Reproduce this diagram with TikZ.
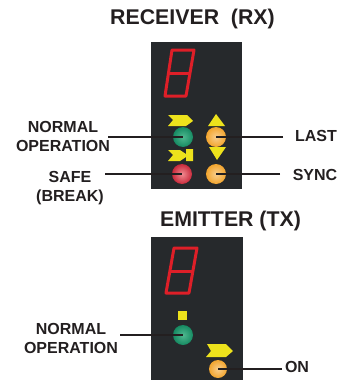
\documentclass[tikz,border=0pt]{standalone}
\usepackage{fontspec}
\setmainfont{Liberation Sans}
\usepackage{tikz}
\definecolor{panelgray}{HTML}{26292C}
\definecolor{labelgray}{HTML}{231F20}
\definecolor{segred}{HTML}{DE1F28}
\definecolor{iconyellow}{HTML}{EDE21C}
\definecolor{ledgreen}{HTML}{168A62}
\definecolor{ledgreenlit}{HTML}{4FB88F}
\definecolor{ledred}{HTML}{C92A3C}
\definecolor{ledredlit}{HTML}{F08A90}
\definecolor{ledorange}{HTML}{F2A52E}
\definecolor{ledorangelit}{HTML}{F9CE8E}

\begin{document}
\begin{tikzpicture}[x=1pt,y=-1pt]
      \tikzstyle{title} = [font=\fontsize{21.3}{24}\selectfont\bfseries, text=labelgray, inner sep=0pt]
      \tikzstyle{label} = [font=\fontsize{16}{19}\selectfont\bfseries, text=labelgray, align=center, inner sep=0pt]
      \tikzstyle{panel} = [fill=panelgray, draw=none]
      \tikzstyle{segment} = [draw=segred, line width=3pt, line join=round]
      \tikzstyle{icon} = [fill=iconyellow, draw=none]
      \tikzstyle{led} = [circle, minimum size=20pt, inner sep=0pt]
      \tikzstyle{greenled} = [led, inner color=ledgreenlit, outer color=ledgreen]
      \tikzstyle{redled} = [led, inner color=ledredlit, outer color=ledred]
      \tikzstyle{orangeled} = [led, inner color=ledorangelit, outer color=ledorange]
      \tikzstyle{leader} = [draw=labelgray, line width=1.8pt]
      \useasboundingbox (0,0) rectangle (347,380);
      % receiver panel
      \fill [panel] (151,42) rectangle (242,189);
      \draw [segment] (172,50)--(194,50)--(186,96)--(165,96)--cycle;
      \draw [segment] (169,73)--(190,73);
      \fill [icon] (168,115)--(187,115)--(193,121)--(186,126)--(168,126)--(173,120)--cycle;
      \fill [icon] (168,150)--(180,150)--(186,154)--(186,149)--(193,149)--(193,161)--(186,161)--(186,157)--(180,161)--(168,161)--(173,155)--cycle;
      \fill [icon] (216,114)--(225,126)--(208,126)--cycle;
      \fill [icon] (209,147)--(226,147)--(217,160)--cycle;
      \node (rxnormal) [greenled] at (183,137) {};
      \node (rxsafe) [redled] at (182,174) {};
      \node (rxlast) [orangeled] at (216,137) {};
      \node (rxsync) [orangeled] at (216,174) {};
      % emitter panel
      \fill [panel] (151,237) rectangle (243,380);
      \draw [segment] (174,248)--(197,248)--(189,293)--(166,293)--cycle;
      \draw [segment] (170,271)--(193,271);
      \fill [icon] (178,311) rectangle (187,320);
      \fill [icon] (207,344)--(226,344)--(233,351)--(226,357)--(206,357)--(211,351)--cycle;
      \node (txnormal) [greenled] at (183,335) {};
      \node (txon) [orangeled, minimum size=18pt] at (218,369) {};
      % texts
      \node (rxtitle) [title] at (192.5,19) {RECEIVER~~(RX)};
      \node (txtitle) [title] at (230.5,221) {EMITTER (TX)};
      \node (rxnormallabel) [label] at (63,136.5) {NORMAL\\OPERATION};
      \node (rxsafelabel) [label] at (70,188.5) {SAFE\\(BREAK)};
      \node (rxlastlabel) [label] at (316,136) {LAST};
      \node (rxsynclabel) [label] at (315,175) {SYNC};
      \node (txnormallabel) [label] at (71,338.5) {NORMAL\\OPERATION};
      \node (txonlabel) [label] at (297,367) {ON};
      % leader ends
      \coordinate (p1) at (108,137);
      \coordinate (p2) at (105,174);
      \coordinate (p3) at (283,137);
      \coordinate (p4) at (280,174);
      \coordinate (p5) at (120,335);
      \coordinate (p6) at (282,369);
      \draw [leader] (p1)--(rxnormal.center);
      \draw [leader] (p2)--(rxsafe.center);
      \draw [leader] (p3)--(rxlast.center);
      \draw [leader] (p4)--(rxsync.center);
      \draw [leader] (p5)--(txnormal.center);
      \draw [leader] (p6)--(txon.center);
    \end{tikzpicture}
\end{document}
